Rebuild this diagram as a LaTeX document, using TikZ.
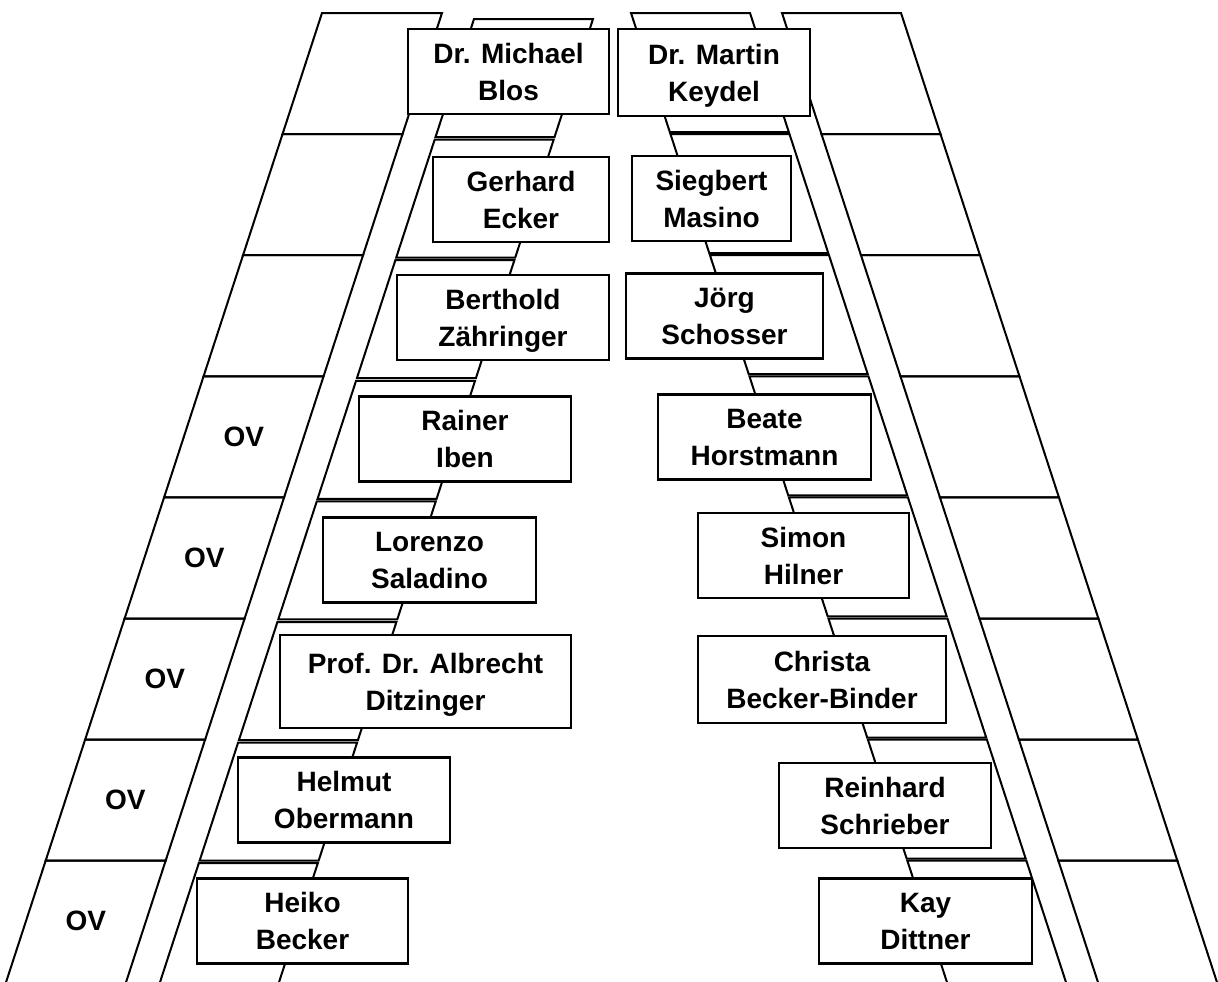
\documentclass[tikz,border=0pt]{standalone}
\usepackage{fontspec}
\setmainfont{Liberation Sans}

\begin{document}
\begin{tikzpicture}[
    x=0.5pt, y=-0.5pt,
    cell/.style={draw,line width=1pt},
    name node/.style={rectangle,draw,fill=white,line width=1.4pt,inner sep=0pt,minimum height=42.5pt,text depth=0pt,align=center,font=\bfseries\fontsize{14}{18.5}\selectfont},
    ov node/.style={font=\bfseries\fontsize{14}{18.5}\selectfont}
]
\useasboundingbox (0,0) rectangle (1218,981);

% Shelves (left outer, left inner, right inner, right outer)
\begin{scope}
\clip (0,0) rectangle (1218,981);
\foreach \xa/\xb/\dir/\ys/\pitch/\hh in {322/442/-1/13/121.1/121.1, 474/593/-1/19/120.6/118, 631/750/1/13/121.1/119, 782/901/1/13/121.1/121.1}
  \foreach \k in {0,...,7} {
    \pgfmathsetmacro\ytop{\ys+\pitch*\k}
    \pgfmathsetmacro\ybot{\k==7 ? 1000 : \ytop+\hh}
    \draw[cell] ({\xa+\dir*0.326*(\ytop-\ys)},\ytop) -- ({\xb+\dir*0.326*(\ytop-\ys)},\ytop)
      -- ({\xb+\dir*0.326*(\ybot-\ys)},\ybot) -- ({\xa+\dir*0.326*(\ybot-\ys)},\ybot) -- cycle;
  }
\end{scope}

% OV labels
\foreach \k in {3,...,7}
  \node[ov node] (ov_\k) at ({382-0.326*121.1*(\k+0.5)},{13+121.1*(\k+0.5)}) {OV};

% Left names
\node[name node, minimum width=100.5pt] (michael_blos) at (508.5,71.5) {Dr. Michael\\Blos};
\node[name node, minimum width=88pt] (gerhard_ecker) at (521,199.5) {Gerhard\\Ecker};
\node[name node, minimum width=106pt] (berthold_zaehringer) at (503,317.5) {Berthold\\Zähringer};
\node[name node, minimum width=106pt] (rainer_iben) at (465,439) {Rainer\\Iben};
\node[name node, minimum width=106.5pt] (lorenzo_saladino) at (429.5,560) {Lorenzo\\Saladino};
\node[name node, minimum width=145.5pt, minimum height=46.5pt] (albrecht_ditzinger) at (425.5,681.5) {Prof. Dr. Albrecht\\Ditzinger};
\node[name node, minimum width=106pt] (helmut_obermann) at (344,800) {Helmut\\Obermann};
\node[name node, minimum width=105.5pt] (heiko_becker) at (302.5,921) {Heiko\\Becker};

% Right names
\node[name node, minimum width=96pt, minimum height=43.5pt] (martin_keydel) at (714,72.5) {Dr. Martin\\Keydel};
\node[name node, minimum width=79.5pt] (siegbert_masino) at (711.5,198.5) {Siegbert\\Masino};
\node[name node, minimum width=98.5pt] (joerg_schosser) at (724.5,316) {Jörg\\Schosser};
\node[name node, minimum width=106.5pt] (beate_horstmann) at (764.5,437) {Beate\\Horstmann};
\node[name node, minimum width=105.5pt] (simon_hilner) at (803.5,555.5) {Simon\\Hilner};
\node[name node, minimum width=124pt, minimum height=43.5pt] (christa_becker_binder) at (822,679.5) {Christa\\Becker-Binder};
\node[name node, minimum width=106pt] (reinhard_schrieber) at (885,805.5) {Reinhard\\Schrieber};
\node[name node, minimum width=106.5pt] (kay_dittner) at (925.5,921) {Kay\\Dittner};

\end{tikzpicture}
\end{document}
